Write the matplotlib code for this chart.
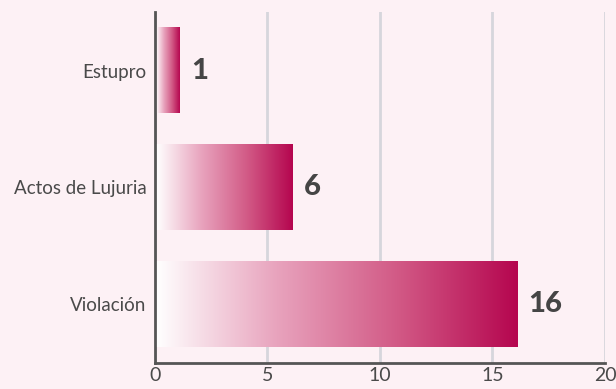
import numpy as np
import matplotlib
matplotlib.use("Agg")
import matplotlib.pyplot as plt
from matplotlib.colors import LinearSegmentedColormap

categories = ["Violación", "Actos de Lujuria", "Estupro"]
values = [16, 6, 1]
xticks = [0, 5, 10, 15, 20]

bg = "#fdf1f5"
grad = LinearSegmentedColormap.from_list("g", ["#ffffff", "#e8a3bd", "#d25a86", "#b5064f"])

fig = plt.figure(figsize=(6.16, 3.89), dpi=100, facecolor=bg)
ax = fig.add_axes([0.2516, 0.067, 0.7305, 0.902], facecolor=bg)

ax.set_xlim(0, 20)
ax.set_ylim(-0.5, 2.5)

bars = ax.barh(range(len(categories)), values, height=0.73, color="none", zorder=3)
g = np.linspace(0, 1, 256).reshape(1, -1)
for b in bars:
    x0, y0 = b.get_x(), b.get_y()
    w, h = b.get_width(), b.get_height()
    im = ax.imshow(g, cmap=grad, aspect="auto", extent=[x0 + 0.05, x0 + w + 0.1, y0, y0 + h],
                   zorder=3, interpolation="bicubic")

for i, v in enumerate(values):
    ax.text(v + 0.6, i, str(v), va="center", ha="left", fontsize=21,
            fontweight="black", color="#454545", family="Lato", zorder=4)

ax.set_xticks(xticks)
ax.set_xticklabels([str(t) for t in xticks], fontsize=14, color="#4a4a4a",
                   family="Lato", fontweight="normal")
ax.set_yticks(range(len(categories)))
ax.set_yticklabels(categories, fontsize=13.5, color="#4a4a4a", family="Lato",
                   fontweight="normal")
ax.tick_params(axis="x", length=0, pad=3)
ax.tick_params(axis="y", length=3, direction="in", color="#555555", pad=6)

ax.grid(axis="x", color="#d6d6dc", linewidth=2, zorder=0)
ax.set_axisbelow(True)
for s in ["top", "right"]:
    ax.spines[s].set_visible(False)
for s in ["left", "bottom"]:
    ax.spines[s].set_color("#555555")
    ax.spines[s].set_linewidth(2)
    ax.spines[s].set_zorder(5)

fig.savefig("out.png", dpi=100, facecolor=bg)
